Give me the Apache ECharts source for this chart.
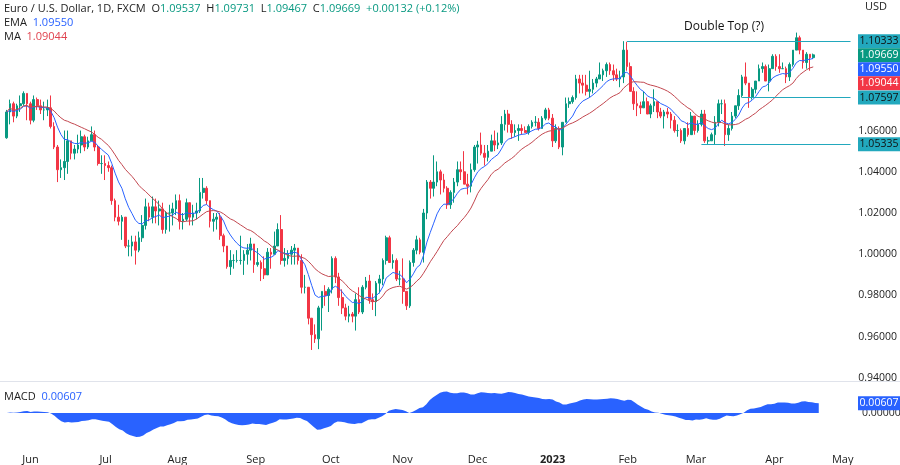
<!DOCTYPE html>
<html><head><meta charset="utf-8">
<script src="https://cdn.jsdelivr.net/npm/echarts@6/dist/echarts.min.js"></script>
<style>html,body{margin:0;padding:0;background:#fff}#c{width:900px;height:465px}</style>
</head><body><div id="c"></div>
<script>
// daily closes, one row per week (Mon-Fri), from 2022-05-23
var closes = [
 1.069,1.073,1.067,1.072,1.073, 1.078,1.073,1.065,1.075,1.072, 1.070,1.070,1.071,1.062,1.052,
 1.041,1.042,1.045,1.055,1.049, 1.051,1.053,1.057,1.052,1.055, 1.058,1.052,1.044,1.044,1.043,
 1.042,1.026,1.018,1.016,1.018, 1.004,1.004,1.006,1.002,1.008, 1.014,1.023,1.018,1.023,1.021,
 1.022,1.012,1.020,1.020,1.022, 1.026,1.016,1.017,1.025,1.018, 1.020,1.021,1.030,1.032,1.026,
 1.016,1.017,1.018,1.009,1.004, 0.994,0.997,0.997,0.997,0.997, 1.000,1.002,1.005,0.995,0.996,
 0.993,0.990,1.001,1.000,1.004, 1.012,0.997,0.998,1.000,1.002, 1.003,0.997,0.984,0.984,0.969,
 0.961,0.959,0.974,0.982,0.980, 0.983,0.998,0.989,0.979,0.974, 0.970,0.971,0.970,0.978,0.972,
 0.984,0.987,0.978,0.977,0.986, 0.988,0.997,1.008,0.996,0.997, 0.988,0.988,0.982,0.975,0.996,
 1.002,1.007,1.001,1.020,1.035, 1.032,1.035,1.040,1.036,1.032, 1.024,1.030,1.035,1.041,1.040,
 1.034,1.033,1.041,1.052,1.053, 1.049,1.047,1.050,1.055,1.053, 1.054,1.063,1.068,1.063,1.059,
 1.060,1.061,1.060,1.059,1.062, 1.064,1.064,1.061,1.066,1.070, 1.066,1.055,1.061,1.052,1.064,
 1.073,1.074,1.076,1.085,1.083, 1.082,1.079,1.080,1.083,1.085, 1.087,1.089,1.092,1.089,1.087,
 1.085,1.086,1.099,1.091,1.079, 1.073,1.072,1.071,1.074,1.068, 1.072,1.074,1.069,1.067,1.069,
 1.068,1.065,1.060,1.060,1.055, 1.061,1.058,1.067,1.060,1.063, 1.068,1.055,1.055,1.058,1.064,
 1.073,1.073,1.058,1.061,1.067, 1.072,1.077,1.086,1.083,1.076, 1.080,1.084,1.090,1.091,1.084,
 1.090,1.096,1.091,1.090,1.090, 1.086,1.092,1.099,1.105,1.099, 1.093,1.097,1.09537,1.09669
];
var highs = [
 1.070,1.075,1.074,1.073,1.077, 1.079,1.078,1.074,1.077,1.076, 1.075,1.074,1.075,1.077,1.064,
 1.053,1.046,1.060,1.060,1.053, 1.053,1.058,1.060,1.058,1.057, 1.062,1.060,1.053,1.048,1.048,
 1.045,1.043,1.027,1.024,1.019, 1.016,1.007,1.009,1.009,1.011, 1.019,1.027,1.025,1.028,1.027,
 1.026,1.025,1.021,1.024,1.025, 1.029,1.029,1.020,1.027,1.025, 1.024,1.025,1.037,1.037,1.033,
 1.026,1.020,1.020,1.020,1.010, 1.004,1.002,1.000,1.002,1.009, 1.002,1.005,1.008,1.003,1.003,
 0.997,0.999,1.003,1.003,1.011, 1.015,1.019,1.003,1.002,1.004, 1.005,1.003,1.000,0.990,0.984,
 0.968,0.966,0.975,0.982,0.985, 0.984,0.999,0.999,0.991,0.983, 0.976,0.975,0.972,0.981,0.984,
 0.985,0.989,0.990,0.981,0.987, 0.990,0.998,1.009,1.009,1.000, 0.998,0.992,0.998,0.982,0.997,
 1.003,1.009,1.008,1.022,1.036, 1.036,1.048,1.045,1.041,1.039, 1.033,1.031,1.037,1.045,1.045,
 1.050,1.039,1.044,1.053,1.055, 1.059,1.053,1.053,1.058,1.060, 1.059,1.067,1.070,1.070,1.065,
 1.063,1.063,1.063,1.062,1.063, 1.065,1.067,1.066,1.067,1.071, 1.071,1.068,1.063,1.062,1.064,
 1.076,1.076,1.077,1.087,1.087, 1.087,1.087,1.089,1.085,1.086, 1.093,1.090,1.093,1.093,1.092,
 1.090,1.089,1.10333,1.103,1.093, 1.081,1.079,1.074,1.079,1.076, 1.073,1.080,1.074,1.071,1.070,
 1.071,1.069,1.067,1.063,1.061, 1.061,1.064,1.069,1.067,1.065, 1.070,1.070,1.057,1.059,1.067,
 1.075,1.075,1.075,1.063,1.069, 1.072,1.080,1.087,1.093,1.083, 1.081,1.084,1.092,1.093,1.092,
 1.092,1.097,1.097,1.097,1.093, 1.091,1.093,1.099,1.1075,1.106, 1.097,1.098,1.097,1.09731
];
var lows = [
 1.056,1.063,1.064,1.066,1.069, 1.072,1.065,1.063,1.064,1.070, 1.068,1.065,1.067,1.061,1.051,
 1.035,1.037,1.036,1.039,1.046, 1.046,1.049,1.049,1.050,1.051, 1.055,1.050,1.043,1.039,1.036,
 1.040,1.024,1.016,1.014,1.007, 1.003,0.999,0.999,0.995,1.001, 1.006,1.012,1.016,1.015,1.015,
 1.014,1.010,1.010,1.011,1.014, 1.019,1.012,1.012,1.016,1.014, 1.014,1.017,1.020,1.027,1.024,
 1.013,1.011,1.012,1.007,1.001, 0.993,0.990,0.993,0.996,0.995, 0.990,0.995,0.997,0.991,0.994,
 0.987,0.988,0.990,0.993,1.000, 1.004,0.995,0.994,0.995,0.995, 0.995,0.995,0.981,0.981,0.966,
 0.9536,0.957,0.954,0.963,0.975, 0.972,0.981,0.986,0.975,0.971, 0.968,0.967,0.967,0.963,0.971,
 0.971,0.983,0.976,0.973,0.970, 0.981,0.985,0.995,0.996,0.993, 0.987,0.985,0.976,0.973,0.974,
 0.994,1.000,1.000,0.996,1.017, 1.027,1.028,1.033,1.029,1.030, 1.022,1.022,1.025,1.033,1.036,
 1.034,1.029,1.030,1.040,1.044, 1.048,1.043,1.045,1.051,1.050, 1.051,1.053,1.060,1.059,1.056,
 1.057,1.055,1.058,1.059,1.058, 1.061,1.062,1.060,1.061,1.065, 1.065,1.052,1.054,1.051,1.048,
 1.064,1.071,1.073,1.075,1.078, 1.078,1.077,1.076,1.078,1.081, 1.085,1.084,1.086,1.087,1.084,
 1.084,1.081,1.083,1.089,1.079, 1.070,1.067,1.068,1.071,1.068, 1.066,1.069,1.066,1.066,1.061,
 1.066,1.061,1.059,1.057,1.054, 1.0533,1.057,1.058,1.058,1.059, 1.062,1.054,1.0535,1.055,1.053,
 1.062,1.068,1.0525,1.055,1.060, 1.066,1.070,1.076,1.082,1.071, 1.075,1.078,1.084,1.088,1.084,
 1.079,1.091,1.089,1.088,1.090, 1.083,1.084,1.091,1.099,1.097, 1.090,1.090,1.089,1.09467
];
var firstOpen = 1.0565;
var monthNames = ['Jan','Feb','Mar','Apr','May','Jun','Jul','Aug','Sep','Oct','Nov','Dec'];
var levels = [
  {value: 1.10333, from: '2023-02-02'},
  {value: 1.07597, from: '2023-03-22'},
  {value: 1.05335, from: '2023-03-06'}
];
var emaPeriod = 10, maPeriod = 21;

// weekday calendar
var dates = [];
var d = new Date(Date.UTC(2022, 4, 23));
var end = new Date(Date.UTC(2023, 4, 5));
while (d <= end) {
  var wd = d.getUTCDay();
  if (wd !== 0 && wd !== 6) dates.push(d.toISOString().slice(0, 10));
  d = new Date(d.getTime() + 86400000);
}
var n = closes.length;
var candles = [];
for (var i = 0; i < n; i++) {
  var o = i === 0 ? firstOpen : closes[i - 1], c = closes[i];
  candles.push([o, c, Math.min(lows[i], o, c), Math.max(highs[i], o, c)]);
}
function ema(arr, p) {
  var k = 2 / (p + 1), out = [], prev = arr[0];
  for (var i = 0; i < arr.length; i++) { prev = i === 0 ? arr[0] : arr[i] * k + prev * (1 - k); out.push(prev); }
  return out;
}
var emaLine = ema(closes, emaPeriod);
var maLine = closes.map(function (v, i) {
  var s = 0, m = Math.min(i + 1, maPeriod);
  for (var j = i - m + 1; j <= i; j++) s += closes[j];
  return s / m;
});
var e12 = ema(closes, 12), e26 = ema(closes, 26);
var macd = closes.map(function (v, i) { return e12[i] - e26[i]; });
var endCat = dates[dates.length - 1];

var cyan = '#22a8bd';
var marks = levels.map(function (l) {
  return [{coord: [l.from, l.value]}, {coord: [endCat, l.value]}];
});

var chart = echarts.init(document.getElementById('c'));
chart.setOption({
  animation: false,
  textStyle: {fontFamily: 'Open Sans'},
  grid: [{left: 5, right: 42, top: 0, height: 378}, {left: 5, right: 42, top: 382, height: 63}],
  xAxis: [
    {type: 'category', data: dates, gridIndex: 0, axisLine: {show: false}, axisTick: {show: false}, axisLabel: {show: false}},
    {type: 'category', data: dates, gridIndex: 1, axisLine: {show: false}, axisTick: {show: false},
     axisLabel: {margin: 10, fontSize: 11, color: '#222',
       interval: function (i, v) { return i > 0 && v.slice(5, 7) !== dates[i - 1].slice(5, 7); },
       formatter: function (v) { var m = +v.slice(5, 7) - 1; return m === 0 ? '{b|' + v.slice(0, 4) + '}' : monthNames[m]; },
       rich: {b: {fontWeight: 'bold', fontSize: 11, color: '#222'}}}}
  ],
  yAxis: [
    {type: 'value', gridIndex: 0, position: 'right', min: 0.94, max: 1.1233, interval: 0.02, splitLine: {show: false},
     axisLine: {show: false}, axisTick: {show: false},
     axisLabel: {fontSize: 10.5, color: '#222', margin: 6, formatter: function (v) { return v > 1.07 ? '' : v.toFixed(5); }}},
    {type: 'value', gridIndex: 1, position: 'right', min: -0.019, max: 0.019, splitLine: {show: false},
     axisLine: {show: false}, axisTick: {show: false}, axisLabel: {show: false}}
  ],
  series: [
    {type: 'candlestick', xAxisIndex: 0, yAxisIndex: 0, data: candles, barWidth: '65%',
     itemStyle: {color: '#089981', color0: '#f23645', borderColor: '#089981', borderColor0: '#f23645', borderWidth: 1},
     markLine: {symbol: 'none', silent: true, animation: false, label: {show: false},
       lineStyle: {color: cyan, width: 1, type: 'solid'}, data: marks}},
    {type: 'line', data: emaLine, symbol: 'none', lineStyle: {color: '#2962ff', width: 1}},
    {type: 'line', data: maLine, symbol: 'none', lineStyle: {color: '#c2474f', width: 1}},
    {type: 'line', xAxisIndex: 1, yAxisIndex: 1, data: macd, symbol: 'none', lineStyle: {width: 0},
     areaStyle: {color: '#2962ff', opacity: 1, origin: 0}}
  ]
});

// price tags on the right axis, stacked so they do not overlap
function tagAt(y, text, bg, fg) {
  return {type: 'group', left: 858, top: y - 7, z: 100, children: [
    {type: 'rect', z: 100, shape: {x: 0, y: 0, width: 42, height: 14}, style: {fill: bg}},
    {type: 'text', z: 101, x: 21, y: 7, style: {text: text, font: '10.5px "Open Sans"', fill: fg, align: 'center', verticalAlign: 'middle'}}
  ]};
}
var tags = [
  {v: levels[0].value, bg: cyan, fg: '#111'},
  {v: closes[n - 1], bg: '#089981', fg: '#fff'},
  {v: emaLine[n - 1], bg: '#2962ff', fg: '#fff', txt: '1.09550'},
  {v: maLine[n - 1], bg: '#f23645', fg: '#fff', txt: '1.09044'},
  {v: levels[1].value, bg: cyan, fg: '#111'},
  {v: levels[2].value, bg: cyan, fg: '#111'}
];
var prevY = -100, gfx = [];
tags.forEach(function (t) {
  var y = chart.convertToPixel({yAxisIndex: 0}, t.v);
  if (y < prevY + 14) y = prevY + 14;
  prevY = y;
  gfx.push(tagAt(y, t.txt || t.v.toFixed(5), t.bg, t.fg));
});
gfx.push(tagAt(chart.convertToPixel({yAxisIndex: 1}, macd[n - 1]), '0.00607', '#2962ff', '#fff'));
gfx.push(
  {type: 'text', left: 4, top: 3, style: {text: 'Euro / U.S. Dollar, 1D, FXCM  O{g|1.09537}  H{g|1.09731}  L{g|1.09467}  C{g|1.09669}  {g|+0.00132 (+0.12%)}',
    font: '11px "Open Sans"', fill: '#222', rich: {g: {fill: '#089981', font: '11px "Open Sans"'}}}},
  {type: 'text', left: 4, top: 17, style: {text: 'EMA  {b|1.09550}', font: '11px "Open Sans"', fill: '#222', rich: {b: {fill: '#2962ff', font: '11px "Open Sans"'}}}},
  {type: 'text', left: 4, top: 31, style: {text: 'MA  {r|1.09044}', font: '11px "Open Sans"', fill: '#222', rich: {r: {fill: '#e0434f', font: '11px "Open Sans"'}}}},
  {type: 'text', left: 865, top: 1, style: {text: 'USD', font: '11px "Open Sans"', fill: '#222'}},
  {type: 'text', left: 684, top: 21, style: {text: 'Double Top (?)', font: '12px "Open Sans"', fill: '#111'}},
  {type: 'line', shape: {x1: 0, y1: 381.5, x2: 900, y2: 381.5}, style: {stroke: '#e0e3eb', lineWidth: 1}},
  {type: 'text', left: 4, top: 391, style: {text: 'MACD  {b|0.00607}', font: '11px "Open Sans"', fill: '#222', rich: {b: {fill: '#2962ff', font: '11px "Open Sans"'}}}},
  {type: 'text', left: 862, top: 408, style: {text: '0.00000', font: '10.5px "Open Sans"', fill: '#222'}}
);
chart.setOption({graphic: gfx});
</script></body></html>
